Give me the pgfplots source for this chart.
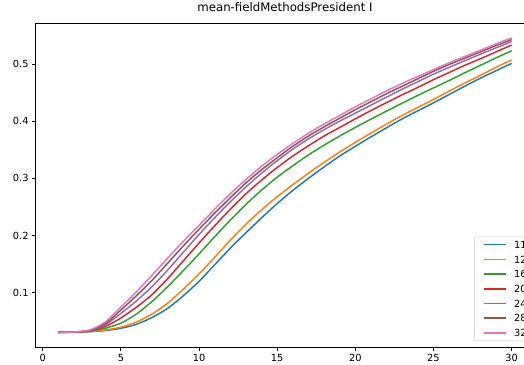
\documentclass[border=0pt]{standalone}
\usepackage{fontspec}
\setmainfont{DejaVu Sans}
\usepackage{pgfplots}
\usepackage{pgfplotstable}
\pgfplotsset{compat=1.18}
\definecolor{c0}{HTML}{1F77B4}
\definecolor{c1}{HTML}{FF7F0E}
\definecolor{c2}{HTML}{2CA02C}
\definecolor{c3}{HTML}{D62728}
\definecolor{c4}{HTML}{9467BD}
\definecolor{c5}{HTML}{8C564B}
\definecolor{c6}{HTML}{E377C2}
\pgfplotstableread{
x  a      b      c      d      e      f      g
1  0.0310 0.0310 0.0310 0.0310 0.0310 0.0310 0.0310
2  0.0311 0.0311 0.0312 0.0313 0.0314 0.0315 0.0316
3  0.0320 0.0322 0.0330 0.0335 0.0340 0.0345 0.0350
4  0.0340 0.0350 0.0380 0.0410 0.0440 0.0460 0.0490
5  0.0380 0.0400 0.0470 0.0560 0.0640 0.0700 0.0750
6  0.0450 0.0490 0.0630 0.0750 0.0860 0.0950 0.1020
7  0.0570 0.0630 0.0850 0.0970 0.1110 0.1220 0.1310
8  0.0730 0.0820 0.1110 0.1250 0.1400 0.1520 0.1610
9  0.0950 0.1065 0.1390 0.1560 0.1710 0.1820 0.1900
10 0.1200 0.1330 0.1680 0.1870 0.2020 0.2110 0.2180
11 0.1490 0.1620 0.1980 0.2170 0.2310 0.2390 0.2460
12 0.1780 0.1920 0.2270 0.2460 0.2590 0.2660 0.2730
13 0.2050 0.2200 0.2545 0.2730 0.2850 0.2920 0.2980
14 0.2310 0.2450 0.2795 0.2970 0.3090 0.3150 0.3210
15 0.2560 0.2680 0.3020 0.3190 0.3310 0.3360 0.3420
16 0.2790 0.2890 0.3220 0.3390 0.3510 0.3560 0.3610
17 0.3000 0.3090 0.3410 0.3570 0.3690 0.3740 0.3790
18 0.3200 0.3280 0.3580 0.3740 0.3850 0.3900 0.3950
19 0.3390 0.3460 0.3740 0.3890 0.4000 0.4050 0.4100
20 0.3560 0.3630 0.3890 0.4040 0.4140 0.4200 0.4250
21 0.3725 0.3790 0.4035 0.4185 0.4280 0.4340 0.4390
22 0.3885 0.3950 0.4175 0.4325 0.4420 0.4480 0.4530
23 0.4040 0.4100 0.4315 0.4460 0.4560 0.4610 0.4660
24 0.4180 0.4240 0.4450 0.4590 0.4690 0.4740 0.4780
25 0.4320 0.4380 0.4580 0.4725 0.4820 0.4870 0.4900
26 0.4465 0.4525 0.4710 0.4850 0.4940 0.4990 0.5020
27 0.4610 0.4665 0.4845 0.4975 0.5055 0.5100 0.5130
28 0.4750 0.4800 0.4975 0.5090 0.5170 0.5210 0.5240
29 0.4880 0.4940 0.5105 0.5210 0.5280 0.5320 0.5350
30 0.5010 0.5070 0.5230 0.5330 0.5390 0.5425 0.5455
}\datatable
\begin{document}
\begin{tikzpicture}
\useasboundingbox (-35.7bp,-18bp) rectangle (488.3bp,347bp);
\clip (-35.7bp,-18bp) rectangle (488.3bp,347bp);
\begin{axis}[
  at={(0,0)}, anchor=south west,
  scale only axis,
  width=498.6bp, height=324bp,
  xmin=-0.45, xmax=31.45,
  ymin=0.0053, ymax=0.5715,
  xtick={0,5,10,15,20,25,30},
  ytick={0.1,0.2,0.3,0.4,0.5},
  /pgf/number format/assume math mode=true,
  y tick label style={/pgf/number format/fixed, /pgf/number format/fixed zerofill, /pgf/number format/precision=1},
  tick align=outside,
  major tick length=3.5bp,
  tick style={black, line width=0.8bp},
  xtick pos=bottom, ytick pos=left,
  axis line style={black, line width=0.8bp},
  ticklabel style={font=\fontsize{9.85}{11}\selectfont},
  xticklabel style={inner sep=0pt, anchor=north, yshift=-3.5bp},
  yticklabel style={inner sep=0pt, anchor=east, xshift=-3.5bp},
  title={mean-fieldMethodsPresident I},
  title style={font=\fontsize{11.8}{13}\selectfont, at={(0.5,1)}, anchor=base, yshift=6bp, inner sep=0pt},
  every axis plot/.append style={line width=1.45bp, smooth, tension=0.4},
  legend cell align=left,
  legend image code/.code={\draw[#1, line width=1.5bp] (0bp,0bp) -- (21.7bp,0bp); \path (29.4bp,0bp);},
  legend style={
    at={(0.8793,0.0185)}, anchor=south west,
    draw=black!20, rounded corners=2bp, fill=white, fill opacity=0.8, text opacity=1,
    font=\fontsize{9.85}{11}\selectfont,
    inner xsep=9bp, inner ysep=4.3bp,
    row sep=7.4bp,
    nodes={inner sep=0pt, text height=7.3bp, text depth=0pt},
  },
]
\addplot[c0] table[x=x,y=a]{\datatable};
\addlegendentry{11}
\addplot[c1] table[x=x,y=b]{\datatable};
\addlegendentry{12}
\addplot[c2] table[x=x,y=c]{\datatable};
\addlegendentry{16}
\addplot[c3] table[x=x,y=d]{\datatable};
\addlegendentry{20}
\addplot[c4] table[x=x,y=e]{\datatable};
\addlegendentry{24}
\addplot[c5] table[x=x,y=f]{\datatable};
\addlegendentry{28}
\addplot[c6] table[x=x,y=g]{\datatable};
\addlegendentry{32}
\end{axis}
\end{tikzpicture}
\end{document}
